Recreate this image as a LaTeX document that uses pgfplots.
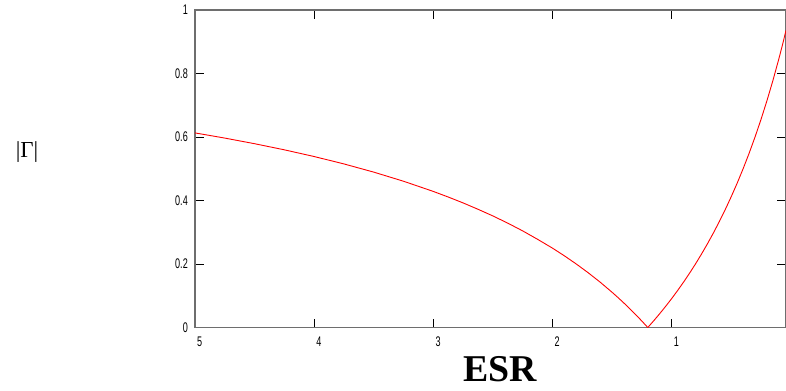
\documentclass[border=0pt]{standalone}
\usepackage{pgfplots}
\pgfplotsset{compat=1.18}
\usepackage{fontspec}
\setmainfont{Liberation Serif}
\newfontfamily\tickfont[FakeStretch=0.65]{Liberation Sans}
\definecolor{axgray}{RGB}{110,110,110}
\begin{document}
\begin{tikzpicture}[x=1bp,y=1bp]
\useasboundingbox (0,0) rectangle (786,390);
\begin{axis}[
  at={(195bp,62.5bp)}, anchor=south west,
  scale only axis, width=591bp, height=317.5bp,
  x dir=reverse, xmin=0.04, xmax=5, ymin=0, ymax=1,
  xtick={1,2,3,4,5}, xticklabels={1,2,3,4,5},
  ytick={0,0.2,0.4,0.6,0.8,1}, yticklabels={0,0.2,0.4,0.6,0.8,1},
  axis line style={draw=axgray, line width=1.5bp},
  tick style={black, line width=0.8bp},
  major tick length=9bp,
  tick align=inside,
  ticklabel style={font=\tickfont\fontsize{14}{14}\selectfont},
  xticklabel style={anchor=north west, inner sep=0pt, xshift=2bp, yshift=-9bp},
  yticklabel style={anchor=east, inner sep=0pt, xshift=-7bp},
]
\addplot[red, line width=0.9bp, no marks, line join=round] coordinates {
(0.04,0.9355) (0.07,0.8898) (0.1,0.8462) (0.15,0.7778) (0.2,0.7143)
(0.25,0.6552) (0.3,0.6) (0.35,0.5484) (0.4,0.5) (0.45,0.4545) (0.5,0.4118)
(0.55,0.3714) (0.6,0.3333) (0.65,0.2973) (0.7,0.2632) (0.75,0.2308)
(0.8,0.2) (0.85,0.1707) (0.9,0.1429) (0.95,0.1163) (1.0,0.0909)
(1.05,0.0667) (1.1,0.0435) (1.15,0.0213)
(1.2,0) (1.25,0.0204) (1.3,0.04) (1.35,0.0588) (1.4,0.0769) (1.45,0.0943)
(1.5,0.1111) (1.6,0.1429) (1.7,0.1724) (1.8,0.2) (1.9,0.2258)
(2.0,0.25) (2.125,0.2778) (2.25,0.3043) (2.375,0.3287) (2.5,0.3514)
(2.625,0.3724) (2.75,0.3924) (2.875,0.4110) (3.0,0.4286)
(3.25,0.4607) (3.5,0.4894) (3.75,0.5152) (4.0,0.5385) (4.25,0.5596)
(4.5,0.5789) (4.75,0.5966) (5.0,0.6129)
};
\end{axis}
\node at (27,238) {\fontsize{23}{23}\selectfont |Γ|};
\node at (500,21) {\fontsize{38}{38}\selectfont\bfseries ESR};
\end{tikzpicture}
\end{document}
